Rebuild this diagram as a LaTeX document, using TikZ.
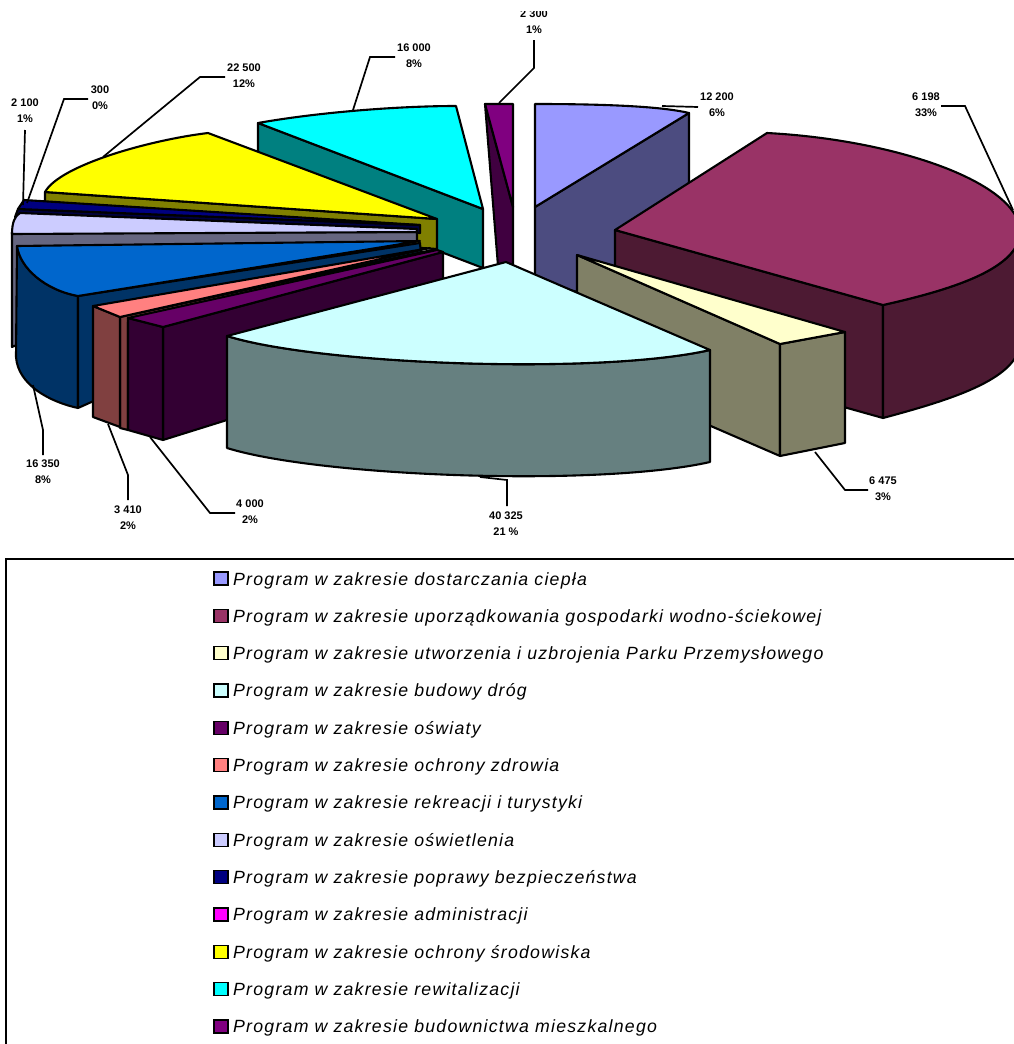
\documentclass[tikz,border=0pt]{standalone}
\usepackage{fontspec}
\setmainfont{Liberation Sans}
\definecolor{dostT}{HTML}{9999FF}\definecolor{dostS}{HTML}{4C4C80}
\definecolor{gospT}{HTML}{993366}\definecolor{gospS}{HTML}{4D1A33}
\definecolor{parkT}{HTML}{FFFFCC}\definecolor{parkS}{HTML}{808066}
\definecolor{drogT}{HTML}{CCFFFF}\definecolor{drogS}{HTML}{668080}
\definecolor{oswT}{HTML}{660066}\definecolor{oswS}{HTML}{330033}
\definecolor{zdrT}{HTML}{FF8080}\definecolor{zdrS}{HTML}{804040}
\definecolor{rekT}{HTML}{0066CC}\definecolor{rekS}{HTML}{003366}
\definecolor{oslT}{HTML}{CCCCFF}\definecolor{oslS}{HTML}{666680}
\definecolor{bezT}{HTML}{000080}\definecolor{bezS}{HTML}{000040}
\definecolor{admT}{HTML}{FF00FF}
\definecolor{srodT}{HTML}{FFFF00}\definecolor{srodS}{HTML}{808000}
\definecolor{rewT}{HTML}{00FFFF}\definecolor{rewS}{HTML}{008080}
\definecolor{mieT}{HTML}{800080}\definecolor{mieS}{HTML}{400040}
\begin{document}
\begin{tikzpicture}[x=1pt,y=-1pt,
  pc/.style={draw=black,line width=2.1pt,line join=round},
  lead/.style={draw=black,line width=1.7pt},
  lab/.style={font=\bfseries\fontsize{11}{16}\selectfont,inner sep=0pt,align=center},
  leg/.style={font=\itshape\fontsize{17.7}{20}\selectfont\addfontfeature{LetterSpace=7},anchor=base west,inner sep=0pt},
  sq/.style={draw=black,line width=1.5pt}]
\useasboundingbox (0,0) rectangle (1014,1044);
\clip (0,0) rectangle (1014,1044);
\fill[white] (0,0) rectangle (1014,1044);

% ---- rewitalizacji (back)
\path[pc,fill=rewS] (258,123) -- (483,209) -- (483,268) -- (258,182) -- cycle;
\path[pc,fill=rewT] (258,123) .. controls (320,112) and (400,106) .. (456,106) -- (483,209) -- cycle;
% ---- budownictwa mieszkalnego
\path[pc,fill=mieS] (485,104) -- (513,207) -- (513,266) -- (498,266) -- cycle;
\path[pc,fill=mieT] (485,104) -- (513,104) -- (513,207) -- cycle;
% ---- dostarczania ciepla
\path[pc,fill=dostS] (535,207) -- (689,113) -- (689,235) -- (578,292) -- (535,282) -- cycle;
\path[pc,fill=dostT] (535,104) .. controls (600,104) and (660,106) .. (689,113) -- (535,207) -- cycle;
% ---- gospodarki wodno-sciekowej
\path[pc,fill=gospS] (615,230) -- (883,305) -- (883,418) -- (615,343) -- cycle;
\path[pc,fill=gospS] (883,305) .. controls (950,290) and (1015,270) .. (1020,235) -- (1020,345) .. controls (1015,380) and (950,400) .. (883,418) -- cycle;
\path[pc,fill=gospT] (615,230) -- (767,133) .. controls (900,140) and (1025,185) .. (1020,235) .. controls (1015,270) and (950,290) .. (883,305) -- cycle;
% ---- Parku Przemyslowego
\path[pc,fill=parkS] (577,255) -- (780,344) -- (780,456) -- (577,368) -- cycle;
\path[pc,fill=parkS] (780,344) -- (845,332) -- (845,443) .. controls (820,448) .. (780,456) -- cycle;
\path[pc,fill=parkT] (577,255) -- (845,332) -- (780,344) -- cycle;
% ---- ochrony srodowiska
\path[pc,fill=srodS] (45,192) -- (437,219) -- (437,249) -- (45,222) -- cycle;
\path[pc,fill=srodT] (45,192) .. controls (60,165) and (150,140) .. (208,133) -- (437,219) -- cycle;
% ---- poprawy bezpieczenstwa
\path[pc,fill=bezS] (18,209) -- (420,225) -- (420,233) -- (15,217) -- cycle;
\path[pc,fill=bezT] (24,200) -- (420,225) -- (18,209) -- cycle;
% ---- oswietlenia
\path[pc,fill=oslS] (12,232) -- (417,232) -- (417,241) -- (120,300) -- (12,347) -- cycle;
\path[pc,fill=oslT] (20,213) -- (417,229) -- (417,232) -- (12,234) .. controls (12,222) and (15,216) .. (20,213) -- cycle;
% ---- rekreacji i turystyki
\path[pc,fill=rekS] (17,246) .. controls (20,268) and (45,290) .. (78,296) -- (78,408) .. controls (50,402) and (18,385) .. (16,357) -- cycle;
\path[pc,fill=rekS] (78,296) -- (420,243) -- (421,255) -- (78,408) -- cycle;
\path[pc,fill=rekT] (17,246) -- (420,241) -- (78,296) .. controls (45,290) and (20,268) .. (17,246) -- cycle;
% ---- ochrony zdrowia
\path[pc,fill=zdrS] (120,317) -- (432,250) -- (432,258) -- (128,322) -- (128,430) -- (120,428) -- cycle;
\path[pc,fill=zdrS] (93,306) -- (120,317) -- (120,427) -- (93,417) -- cycle;
\path[pc,fill=zdrT] (93,306) -- (430,248) -- (120,317) -- cycle;
% ---- oswiaty
\path[pc,fill=oswS] (163,327) -- (443,252) -- (443,282) -- (227,420) -- (163,440) -- cycle;
\path[pc,fill=oswS] (128,318) -- (163,327) -- (163,440) -- (128,430) -- cycle;
\path[pc,fill=oswT] (128,318) -- (437,250) -- (443,252) -- (163,327) -- cycle;
% ---- budowy drog (front)
\path[pc,fill=drogS] (227,336) .. controls (320,365) and (600,375) .. (710,350) -- (710,462) .. controls (600,487) and (320,477) .. (227,448) -- cycle;
\path[pc,fill=drogT] (506,262) -- (710,350) .. controls (600,375) and (320,365) .. (227,336) -- cycle;

% ---- data labels
\begin{scope}
\clip (0,11) rectangle (1014,100);
\node[lab] (l2300) at (534,22) {2 300\\1\%};
\end{scope}
\draw[lead] (499,103) -- (534,68) -- (534,40);
\node[lab] (l12200) at (717,105) {12 200\\6\%};
\draw[lead] (662,106) -- (698,107);
\node[lab] (l6198) at (926,105) {6 198\\33\%};
\draw[lead] (1013,210) -- (965,106) -- (941,106);
\node[lab] (l16000) at (414,56) {16 000\\8\%};
\draw[lead] (353,110) -- (370,57) -- (395,57);
\node[lab] (l22500) at (244,76) {22 500\\12\%};
\draw[lead] (103,157) -- (200,77) -- (225,77);
\node[lab] (l300) at (100,98) {300\\0\%};
\draw[lead] (27,203) -- (64,99) -- (88,99);
\node[lab] (l2100) at (25,111) {2 100\\1\%};
\draw[lead] (23,205) -- (25,130);
\node[lab] (l16350) at (43,472) {16 350\\8\%};
\draw[lead] (33,385) -- (43,430) -- (43,455);
\node[lab] (l3410) at (128,518) {3 410\\2\%};
\draw[lead] (108,424) -- (128,475) -- (128,500);
\node[lab] (l4000) at (250,512) {4 000\\2\%};
\draw[lead] (150,437) -- (210,513) -- (235,513);
\node[lab] (l40325) at (506,524) {40 325\\21 \%};
\draw[lead] (480,477) -- (507,480) -- (507,506);
\node[lab] (l6475) at (883,489) {6 475\\3\%};
\draw[lead] (815,452) -- (845,490) -- (868,490);

% ---- legend
\draw[line width=2.5pt] (6,1050) -- (6,559) -- (1020,559);
\foreach \c/\t [count=\i from 0] in {
  dostT/{Program w zakresie dostarczania ciepła},
  gospT/{Program w zakresie uporządkowania gospodarki wodno-ściekowej},
  parkT/{Program w zakresie utworzenia i uzbrojenia Parku Przemysłowego},
  drogT/{Program w zakresie budowy dróg},
  oswT/{Program w zakresie oświaty},
  zdrT/{Program w zakresie ochrony zdrowia},
  rekT/{Program w zakresie rekreacji i turystyki},
  oslT/{Program w zakresie oświetlenia},
  bezT/{Program w zakresie poprawy bezpieczeństwa},
  admT/{Program w zakresie administracji},
  srodT/{Program w zakresie ochrony środowiska},
  rewT/{Program w zakresie rewitalizacji},
  mieT/{Program w zakresie budownictwa mieszkalnego}} {
  \pgfmathsetmacro{\yb}{585+37.33*\i}
  \path[sq,fill=\c] (214,\yb-13) rectangle (228,\yb);
  \node[leg] (leg\i) at (233,\yb) {\t};
}
\end{tikzpicture}
\end{document}
